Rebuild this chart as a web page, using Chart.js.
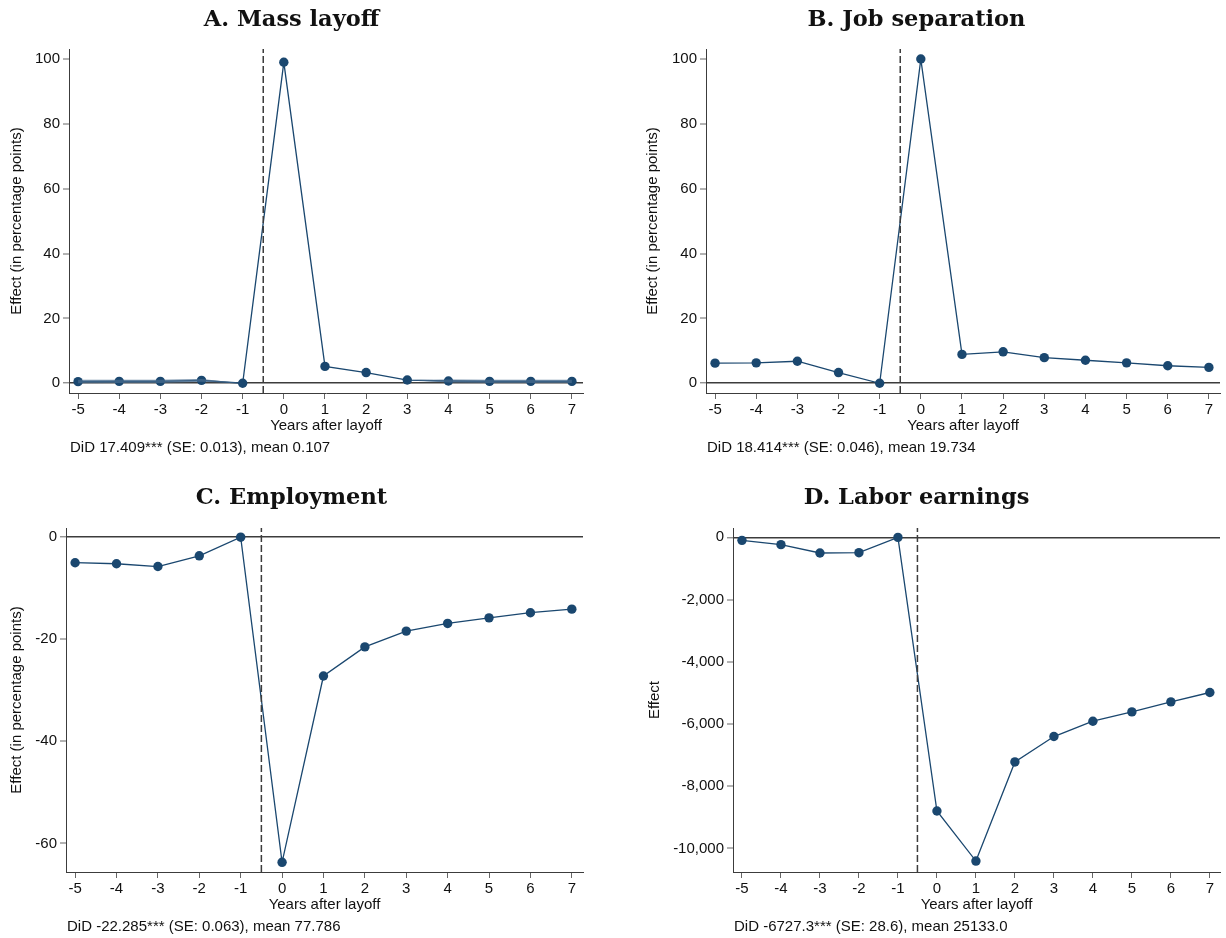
<!DOCTYPE html>
<html>
<head>
<meta charset="utf-8">
<script src="https://cdn.jsdelivr.net/npm/chart.js@4.4.1/dist/chart.umd.min.js"></script>
<style>
  html, body { margin: 0; padding: 0; background: #fff; }
  #wrap { position: relative; width: 1226px; height: 938px; }
  .panel { position: absolute; width: 613px; height: 469px; }
</style>
</head>
<body>
<div id="wrap">
  <div class="panel" style="left:0;top:0"><canvas id="panelA"></canvas></div>
  <div class="panel" style="left:613px;top:0"><canvas id="panelB"></canvas></div>
  <div class="panel" style="left:0;top:469px"><canvas id="panelC"></canvas></div>
  <div class="panel" style="left:613px;top:469px"><canvas id="panelD"></canvas></div>
</div>
<script>
// event-study estimates, years relative to the layoff
const years = [-5, -4, -3, -2, -1, 0, 1, 2, 3, 4, 5, 6, 7];
const massLayoff = [0.5, 0.6, 0.6, 0.9, 0, 99.0, 5.2, 3.3, 1.0, 0.7, 0.6, 0.6, 0.6];
const massLayoffLo = [0.0, 0.1, 0.1, 0.5, 0, 99.0, 5.2, 3.3, 1.0, 0.2, 0.1, 0.1, 0.1];
const massLayoffHi = [1.1, 1.1, 1.1, 1.3, 0, 99.0, 5.2, 3.3, 1.0, 1.2, 1.1, 1.1, 1.1];
const jobSeparation = [6.2, 6.3, 6.8, 3.3, 0, 100.0, 8.9, 9.7, 7.9, 7.1, 6.3, 5.4, 4.9];
const employment = [-5.0, -5.2, -5.75, -3.65, 0, -63.7, -27.2, -21.5, -18.4, -16.9, -15.8, -14.8, -14.1];
const laborEarnings = [-97, -236, -504, -494, 0, -8798, -10408, -7221, -6405, -5912, -5612, -5290, -4989];

const pctTicks = [0, 20, 40, 60, 80, 100];
const employmentTicks = [-60, -40, -20, 0];
const earningsTicks = [-10000, -8000, -6000, -4000, -2000, 0];

const eventLine = -0.5;

const navy = "#1a476f";
const ink = "#3c3c3c";
const tickInk = "#666666";
const sans = "'Liberation Sans', Arial, sans-serif";

// writes the DiD summary line under the x-axis title
const notePlugin = {
  id: "note",
  afterDraw(chart, args, opts) {
    const { ctx, chartArea } = chart;
    ctx.save();
    ctx.font = `15px ${sans}`;
    ctx.fillStyle = "#111";
    ctx.textBaseline = "middle";
    ctx.textAlign = "left";
    ctx.fillText(opts.text, chartArea.left + 1, chartArea.bottom + 55);
    ctx.restore();
  },
};

const toPoints = (vals) => years.map((x, i) => ({ x, y: vals[i] }));

const makePanel = (canvas, p) => {
  const datasets = [
    {
      data: [{ x: eventLine, y: p.yMin }, { x: eventLine, y: p.yMax }],
      borderColor: ink,
      borderWidth: 1.5,
      borderDash: [7, 3],
      pointRadius: 0,
    },
  ];
  if (p.lo) {
    // confidence band: upper edge fills down to the lower edge
    datasets.push(
      { data: toPoints(p.lo), borderWidth: 0, pointRadius: 0, fill: false },
      {
        data: toPoints(p.hi),
        borderWidth: 0,
        pointRadius: 0,
        backgroundColor: "rgba(70, 105, 140, 0.75)",
        fill: "-1",
      }
    );
  }
  datasets.push({
    data: toPoints(p.values),
    borderColor: navy,
    backgroundColor: navy,
    borderWidth: 1.3,
    pointRadius: 4.7,
    pointBorderWidth: 0,
    tension: 0,
    fill: false,
  });

  return new Chart(canvas, {
    type: "line",
    data: { datasets },
    plugins: [notePlugin],
    options: {
      animation: false,
      responsive: true,
      maintainAspectRatio: false,
      layout: { padding: { left: 0, right: p.padRight, top: 0, bottom: p.padBottom } },
      scales: {
        x: {
          type: "linear",
          min: p.xMin,
          max: p.xMax,
          afterBuildTicks: (axis) => { axis.ticks = years.map((v) => ({ value: v })); },
          afterFit: (axis) => { axis.height = 45; },
          border: { display: true, color: ink, width: 1 },
          grid: { drawOnChartArea: false, drawTicks: true, tickLength: 6, tickColor: tickInk, tickWidth: 1 },
          ticks: { color: "#111", font: { family: sans, size: 15 }, padding: 2, maxRotation: 0, autoSkip: false },
          title: { display: true, text: "Years after layoff", color: "#111", font: { family: sans, size: 15 }, padding: { top: 0, bottom: 3 } },
        },
        y: {
          type: "linear",
          min: p.yMin,
          max: p.yMax,
          afterBuildTicks: (axis) => { axis.ticks = p.ticks.map((v) => ({ value: v })); },
          afterFit: (axis) => { axis.width = p.axisWidth; },
          border: { display: true, color: ink, width: 1 },
          grid: {
            drawTicks: true,
            tickLength: 6,
            tickColor: tickInk,
            tickWidth: 1,
            color: (c) => (c.tick && c.tick.value === 0 ? ink : "rgba(0,0,0,0)"),
            lineWidth: (c) => (c.tick && c.tick.value === 0 ? 1.6 : 0),
          },
          ticks: {
            color: "#111",
            font: { family: sans, size: 15 },
            padding: 3,
            callback: (v) => Number(v).toLocaleString("en-US"),
          },
          title: { display: true, text: p.yTitle, color: "#111", font: { family: sans, size: 15 }, padding: { top: p.yTitlePad, bottom: 0 } },
        },
      },
      plugins: {
        legend: { display: false },
        tooltip: { enabled: false },
        filler: { propagate: false },
        title: {
          display: true,
          text: p.title,
          color: "#111",
          font: { family: "'DejaVu Serif', serif", size: 22.5, weight: "bold", lineHeight: 1.2 },
          padding: { top: p.titleTop, bottom: p.titleBottom },
        },
        note: { text: p.note },
      },
    },
  });
};

makePanel(document.getElementById("panelA"), {
  title: "A. Mass layoff",
  values: massLayoff, lo: massLayoffLo, hi: massLayoffHi,
  ticks: pctTicks,
  xMin: -5.22, xMax: 7.27,
  yMin: -3, yMax: 103.1,
  yTitle: "Effect (in percentage points)",
  note: "DiD 17.409*** (SE: 0.013), mean 0.107",
  axisWidth: 69, yTitlePad: 8, padRight: 30, padBottom: 31, titleTop: 7, titleBottom: 15,
});

makePanel(document.getElementById("panelB"), {
  title: "B. Job separation",
  values: jobSeparation,
  ticks: pctTicks,
  xMin: -5.22, xMax: 7.27,
  yMin: -3, yMax: 103.1,
  yTitle: "Effect (in percentage points)",
  note: "DiD 18.414*** (SE: 0.046), mean 19.734",
  axisWidth: 93, yTitlePad: 31, padRight: 6, padBottom: 31, titleTop: 7, titleBottom: 15,
});

makePanel(document.getElementById("panelC"), {
  title: "C. Employment",
  values: employment,
  ticks: employmentTicks,
  xMin: -5.22, xMax: 7.27,
  yMin: -65.6, yMax: 1.8,
  yTitle: "Effect (in percentage points)",
  note: "DiD -22.285*** (SE: 0.063), mean 77.786",
  axisWidth: 66, yTitlePad: 8, padRight: 30, padBottom: 21, titleTop: 15.5, titleBottom: 16.5,
});

makePanel(document.getElementById("panelD"), {
  title: "D. Labor earnings",
  values: laborEarnings,
  ticks: earningsTicks,
  xMin: -5.23, xMax: 7.26,
  yMin: -10760, yMax: 300,
  yTitle: "Effect",
  note: "DiD -6727.3*** (SE: 28.6), mean 25133.0",
  axisWidth: 120, yTitlePad: 33, padRight: 6, padBottom: 21, titleTop: 15.5, titleBottom: 16.5,
});
</script>
</body>
</html>
